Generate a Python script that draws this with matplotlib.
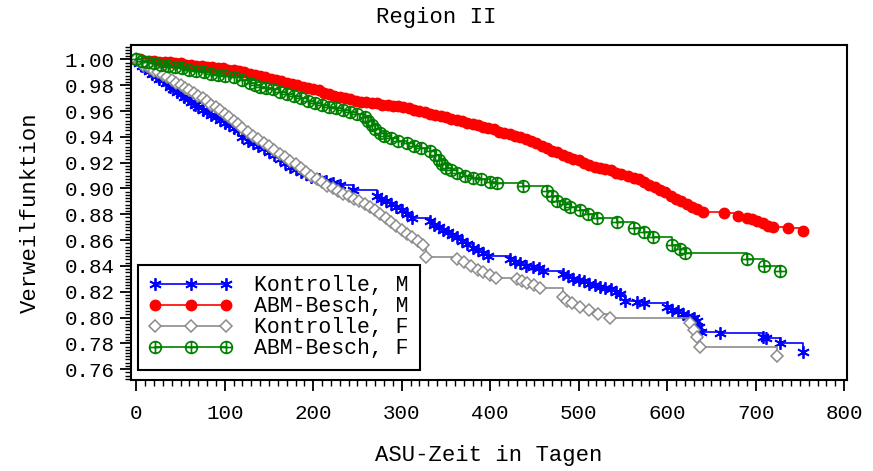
import matplotlib
matplotlib.use("Agg")
import matplotlib.pyplot as plt
from matplotlib.path import Path
from matplotlib.ticker import MultipleLocator, FormatStrFormatter

# Kaplan-Meier curves (time in days, survival)
km_m_t = [0, 3, 6, 10, 14, 18, 22, 26, 30, 34, 38, 42, 46, 50, 54, 58, 62, 66, 70, 75,
          80, 85, 90, 95, 100, 105, 110, 115, 120, 126, 132, 138, 144, 150, 156, 162, 168,
          174, 180, 186, 192, 198, 206, 214, 222, 230, 245, 272, 277, 282, 288, 294, 300,
          306, 312, 332, 337, 342, 347, 352, 357, 362, 368, 374, 380, 386, 392, 398, 422,
          428, 434, 440, 448, 455, 460, 482, 488, 494, 500, 506, 512, 518, 524, 530, 536,
          542, 547, 552, 566, 574, 600, 606, 612, 618, 624, 630, 634, 636, 638, 660, 708,
          712, 728, 754]
km_m_s = [1.000, 0.997, 0.995, 0.993, 0.991, 0.989, 0.987, 0.985, 0.984, 0.982, 0.979,
          0.977, 0.975, 0.973, 0.971, 0.969, 0.967, 0.965, 0.963, 0.961, 0.959, 0.957,
          0.955, 0.953, 0.951, 0.949, 0.947, 0.945, 0.940, 0.937, 0.935, 0.933, 0.931,
          0.928, 0.926, 0.923, 0.920, 0.917, 0.915, 0.913, 0.911, 0.909, 0.907, 0.906,
          0.904, 0.903, 0.899, 0.894, 0.892, 0.890, 0.888, 0.886, 0.883, 0.880, 0.877,
          0.875, 0.872, 0.870, 0.868, 0.866, 0.864, 0.862, 0.859, 0.857, 0.854, 0.852,
          0.850, 0.848, 0.845, 0.843, 0.842, 0.840, 0.839, 0.838, 0.836, 0.834, 0.832,
          0.830, 0.829, 0.828, 0.826, 0.825, 0.824, 0.823, 0.822, 0.820, 0.818, 0.813,
          0.812, 0.811, 0.808, 0.806, 0.805, 0.803, 0.801, 0.800, 0.797, 0.793, 0.789,
          0.788, 0.785, 0.784, 0.780, 0.773]

abm_m_t = [0, 4, 8, 14, 20, 26, 32, 38, 44, 50, 56, 62, 68, 74, 80, 86, 92, 98, 104, 110,
           116, 122, 128, 134, 140, 146, 152, 158, 164, 170, 176, 182, 188, 194, 200, 206,
           212, 218, 224, 230, 236, 242, 248, 254, 260, 266, 272, 278, 284, 290, 296, 302,
           308, 314, 320, 326, 332, 338, 344, 350, 356, 362, 368, 374, 380, 386, 392, 398,
           404, 410, 416, 422, 428, 434, 440, 446, 452, 458, 464, 470, 476, 482, 488, 494,
           500, 506, 512, 518, 524, 530, 536, 542, 548, 556, 562, 568, 574, 580, 586, 592,
           598, 604, 610, 616, 622, 628, 634, 640, 664, 680, 690, 696, 702, 708, 714, 720,
           736, 754]
abm_m_s = [1.000, 1.000, 0.999, 0.999, 0.999, 0.998, 0.998, 0.998, 0.997, 0.997, 0.996,
           0.996, 0.995, 0.995, 0.994, 0.994, 0.993, 0.993, 0.992, 0.992, 0.991, 0.990,
           0.989, 0.988, 0.987, 0.986, 0.985, 0.984, 0.983, 0.982, 0.981, 0.980, 0.979,
           0.978, 0.977, 0.976, 0.974, 0.973, 0.972, 0.971, 0.970, 0.969, 0.968, 0.967,
           0.967, 0.966, 0.966, 0.965, 0.965, 0.964, 0.964, 0.963, 0.962, 0.961, 0.960,
           0.959, 0.958, 0.957, 0.956, 0.955, 0.954, 0.953, 0.952, 0.951, 0.950, 0.949,
           0.948, 0.947, 0.946, 0.944, 0.943, 0.942, 0.941, 0.940, 0.938, 0.937, 0.935,
           0.933, 0.931, 0.929, 0.928, 0.926, 0.924, 0.923, 0.922, 0.920, 0.918, 0.917,
           0.916, 0.915, 0.914, 0.912, 0.911, 0.910, 0.908, 0.907, 0.905, 0.903, 0.901,
           0.899, 0.897, 0.894, 0.892, 0.890, 0.888, 0.886, 0.884, 0.882, 0.881, 0.879,
           0.877, 0.876, 0.875, 0.873, 0.871, 0.870, 0.869, 0.867]

km_f_t = [0, 4, 8, 12, 16, 20, 25, 30, 35, 40, 45, 50, 55, 60, 65, 70, 75, 80, 85, 90, 95,
          100, 105, 110, 115, 120, 126, 132, 138, 144, 150, 156, 162, 168, 174, 180, 186,
          192, 198, 204, 210, 216, 222, 228, 234, 240, 246, 252, 258, 264, 270, 276, 282,
          288, 294, 300, 306, 312, 318, 324, 328, 362, 370, 378, 386, 392, 400, 407, 430,
          436, 442, 450, 456, 482, 487, 492, 502, 512, 522, 535, 626, 630, 634, 637, 724]
km_f_s = [1.000, 0.998, 0.996, 0.995, 0.993, 0.991, 0.990, 0.988, 0.986, 0.984, 0.982,
          0.980, 0.978, 0.976, 0.974, 0.972, 0.970, 0.968, 0.965, 0.963, 0.961, 0.958,
          0.955, 0.952, 0.950, 0.947, 0.944, 0.941, 0.938, 0.935, 0.933, 0.930, 0.927,
          0.924, 0.921, 0.919, 0.916, 0.913, 0.910, 0.907, 0.905, 0.902, 0.900, 0.898,
          0.896, 0.894, 0.892, 0.890, 0.888, 0.886, 0.883, 0.880, 0.877, 0.874, 0.871,
          0.868, 0.865, 0.862, 0.859, 0.856, 0.847, 0.845, 0.843, 0.840, 0.837, 0.835,
          0.833, 0.831, 0.830, 0.828, 0.827, 0.825, 0.823, 0.816, 0.813, 0.811, 0.808,
          0.806, 0.803, 0.800, 0.796, 0.790, 0.785, 0.777, 0.770]

abm_f_t = [0, 6, 12, 20, 28, 36, 44, 52, 60, 68, 76, 84, 92, 100, 110, 120, 128, 134, 140,
           147, 154, 162, 170, 178, 186, 194, 202, 210, 218, 226, 234, 242, 250, 258, 262,
           266, 270, 275, 280, 288, 296, 306, 314, 322, 332, 338, 342, 346, 350, 356, 362,
           372, 380, 390, 400, 408, 437, 464, 470, 476, 484, 490, 501, 510, 521, 543, 562,
           574, 584, 605, 614, 620, 690, 709, 728]
abm_f_s = [1.000, 0.999, 0.998, 0.997, 0.996, 0.995, 0.994, 0.993, 0.992, 0.991, 0.990,
           0.989, 0.988, 0.987, 0.986, 0.984, 0.982, 0.980, 0.979, 0.978, 0.977, 0.975,
           0.973, 0.972, 0.970, 0.968, 0.966, 0.965, 0.963, 0.962, 0.961, 0.959, 0.958,
           0.955, 0.952, 0.949, 0.946, 0.943, 0.941, 0.939, 0.937, 0.935, 0.933, 0.931,
           0.929, 0.926, 0.922, 0.919, 0.916, 0.914, 0.912, 0.910, 0.908, 0.907, 0.905,
           0.904, 0.902, 0.898, 0.894, 0.890, 0.888, 0.886, 0.883, 0.880, 0.877, 0.874,
           0.869, 0.866, 0.862, 0.856, 0.853, 0.850, 0.845, 0.840, 0.836]

labels = ["Kontrolle, M", "ABM-Besch, M", "Kontrolle, F", "ABM-Besch, F"]

plt.rcParams["font.family"] = ["Liberation Mono", "DejaVu Sans Mono"]

# circle with a plus inside, like the SAS marker
circle_plus = Path.make_compound_path(
    Path.unit_circle(),
    Path([[-1, 0], [1, 0]], [Path.MOVETO, Path.LINETO]),
    Path([[0, -1], [0, 1]], [Path.MOVETO, Path.LINETO]),
)

fig = plt.figure(figsize=(8.73, 4.71), dpi=100)
ax = fig.add_axes([0.150, 0.193, 0.820, 0.711])

ax.plot(km_m_t, km_m_s, drawstyle="steps-post", color="#0000ff", lw=1.2,
        marker=(6, 2, 0), ms=9, mew=1.3, label=labels[0])
ax.plot(abm_m_t, abm_m_s, drawstyle="steps-post", color="#ff0000", lw=1.2,
        marker="o", ms=7.5, label=labels[1])
ax.plot(km_f_t, km_f_s, drawstyle="steps-post", color="#8c8c8c", lw=1.2,
        marker="D", ms=6, mfc="white", mew=1.1, label=labels[2])
ax.plot(abm_f_t, abm_f_s, drawstyle="steps-post", color="#008000", lw=1.2,
        marker=circle_plus, ms=8.5, mfc="none", mew=1.2, label=labels[3])

ax.set_xlim(-6, 803)
ax.set_ylim(0.7515, 1.011)
ax.xaxis.set_major_locator(MultipleLocator(100))
ax.xaxis.set_minor_locator(MultipleLocator(10))
ax.yaxis.set_major_locator(MultipleLocator(0.02))
ax.yaxis.set_minor_locator(MultipleLocator(0.0025))
ax.yaxis.set_major_formatter(FormatStrFormatter("%.2f"))

ax.tick_params(which="major", direction="out", length=8, width=1.3, labelsize=15)
ax.tick_params(which="minor", direction="out", length=4, width=1.0)
ax.tick_params(axis="x", which="major", pad=9)
ax.tick_params(axis="y", which="major", pad=4)
for sp in ax.spines.values():
    sp.set_linewidth(1.5)

ax.set_xlabel("ASU-Zeit in Tagen", fontsize=16, va="center")
ax.xaxis.set_label_coords(0.5, -0.224)
ax.set_ylabel("Verweilfunktion", fontsize=16, va="center")
ax.yaxis.set_label_coords(-0.141, 0.5)

fig.text(0.5, 0.962, "Region II", ha="center", va="center", fontsize=16)

leg = ax.legend(loc="lower left", bbox_to_anchor=(0.01, 0.03), borderaxespad=0,
                numpoints=3, handlelength=3.9, handletextpad=1.0, labelspacing=0.0,
                borderpad=0.5, fontsize=15.5, fancybox=False, framealpha=1,
                edgecolor="black")
leg.get_frame().set_linewidth(1.5)

fig.savefig("out.png", dpi=100)
